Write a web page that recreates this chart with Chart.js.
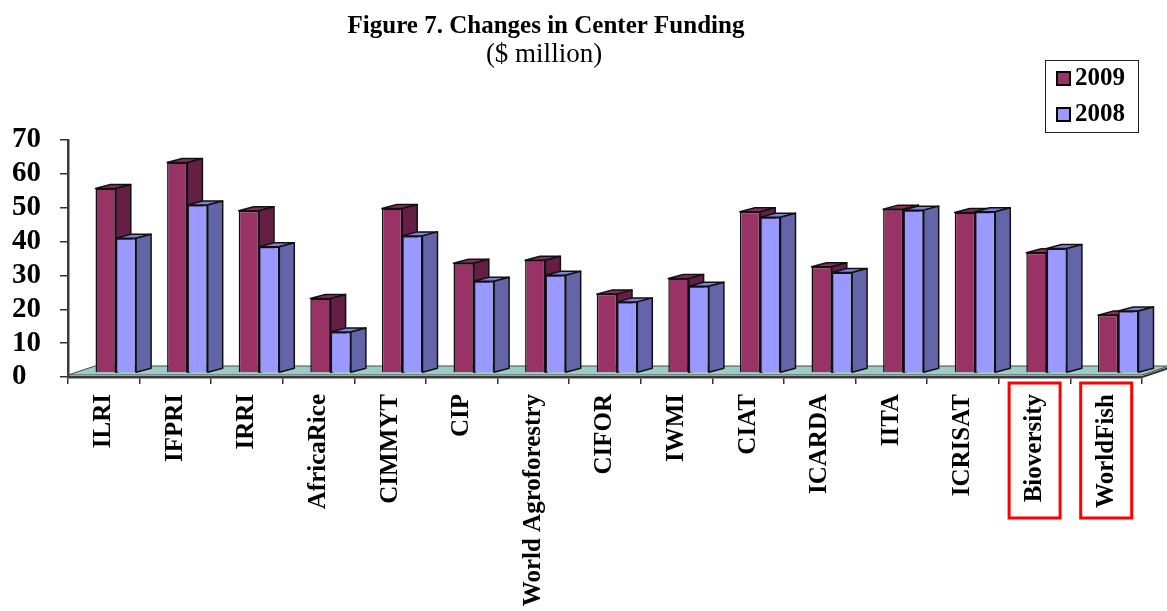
<!DOCTYPE html>
<html>
<head>
<meta charset="utf-8">
<script src="https://cdn.jsdelivr.net/npm/chart.js@4"></script>
<style>
  body { margin: 0; background: #fff; }
  #wrap { width: 1167px; height: 611px; position: relative; }
</style>
</head>
<body>
<div id="wrap"><canvas id="funding"></canvas></div>
<script>
const centros = ['ILRI', 'IFPRI', 'IRRI', 'AfricaRice', 'CIMMYT', 'CIP', 'World Agroforestry', 'CIFOR', 'IWMI', 'CIAT', 'ICARDA', 'IITA', 'ICRISAT', 'Bioversity', 'WorldFish'];
const funding2009 = [54.5, 62.2, 47.9, 22.0, 48.6, 32.4, 33.3, 23.3, 27.9, 47.6, 31.4, 48.4, 47.4, 35.5, 17.1];
const funding2008 = [39.8, 49.6, 37.3, 12.1, 40.5, 27.1, 28.9, 21.0, 25.6, 46.0, 29.7, 48.1, 47.6, 36.8, 18.3];
const destacados = ['Bioversity', 'WorldFish'];
const yTicks = [0, 10, 20, 30, 40, 50, 60, 70];

const serif = "'Liberation Serif', 'Times New Roman', serif";

const cores = {
  '2009': { front: '#993366', top: '#8a2c5c', side: '#661f44' },
  '2008': { front: '#9999ff', top: '#7f7fdc', side: '#6464a8' }
};

// fake 3D: floor + top/side faces, fronts are drawn by Chart.js shifted back
const shift = { x: 12, y: -4 };
const depth = { x: 15, y: -4 };

function poly(ctx, pts, fill) {
  ctx.beginPath();
  ctx.moveTo(pts[0][0], pts[0][1]);
  for (let i = 1; i < pts.length; i++) ctx.lineTo(pts[i][0], pts[i][1]);
  ctx.closePath();
  ctx.fillStyle = fill;
  ctx.fill();
  ctx.stroke();
}

const bars3d = {
  id: 'bars3d',
  beforeDatasetsDraw(chart) {
    const ctx = chart.ctx;
    const a = chart.chartArea;
    ctx.save();
    ctx.strokeStyle = '#4a4a4a';
    ctx.lineWidth = 1;
    const fy = a.bottom - 2;
    poly(ctx, [[a.left, fy], [a.right, fy], [a.right + 27, fy - 9], [a.left + 27, fy - 9]], '#9ccbc6');
    ctx.lineWidth = 2;
    ctx.strokeStyle = '#333';
    ctx.beginPath();
    ctx.moveTo(a.right, a.bottom);
    ctx.lineTo(a.right + 27, a.bottom - 9);
    ctx.stroke();
    ctx.restore();

    ctx.save();
    ctx.translate(shift.x, shift.y);
    ctx.strokeStyle = '#111';
    ctx.lineWidth = 1.5;
    ctx.lineJoin = 'round';
    const metas = chart.data.datasets.map((d, i) => chart.getDatasetMeta(i));
    for (let i = 0; i < chart.data.labels.length; i++) {
      metas.forEach((meta, di) => {
        const el = meta.data[i];
        const c = cores[chart.data.datasets[di].label];
        const l = el.x - el.width / 2, r = el.x + el.width / 2;
        const t = el.y, b = el.base;
        poly(ctx, [[l, t], [r, t], [r + depth.x, t + depth.y], [l + depth.x, t + depth.y]], c.top);
        poly(ctx, [[r, t], [r + depth.x, t + depth.y], [r + depth.x, b + depth.y], [r, b]], c.side);
      });
    }
  },
  afterDatasetsDraw(chart) {
    chart.ctx.restore();
  },
  afterDraw(chart) {
    const ctx = chart.ctx;
    ctx.save();
    ctx.fillStyle = '#000';
    ctx.textAlign = 'center';
    ctx.textBaseline = 'middle';
    ctx.font = 'bold 25px ' + serif;
    ctx.fillText('Figure 7. Changes in Center Funding', 546, 27);
    ctx.font = '27px ' + serif;
    ctx.fillText('($ million)', 544, 55);

    // legend
    ctx.strokeStyle = '#222';
    ctx.lineWidth = 1;
    ctx.strokeRect(1045.5, 60.5, 93, 72);
    ctx.textAlign = 'left';
    ctx.font = 'bold 25px ' + serif;
    chart.data.datasets.forEach((d, i) => {
      const cy = 78 + i * 36;
      ctx.fillStyle = d.backgroundColor;
      ctx.fillRect(1057, cy - 6, 13, 13);
      ctx.lineWidth = 2;
      ctx.strokeStyle = '#000';
      ctx.strokeRect(1057, cy - 6, 13, 13);
      ctx.fillStyle = '#000';
      ctx.fillText(d.label, 1075, cy + 1);
    });

    // red boxes around highlighted centres
    const xs = chart.scales.x;
    ctx.strokeStyle = '#ff0000';
    ctx.lineWidth = 3;
    destacados.forEach(nome => {
      const i = chart.data.labels.indexOf(nome);
      const x = xs.getPixelForTick(i);
      ctx.strokeRect(x - 25.5, 383, 51, 135);
    });
    ctx.restore();
  }
};

const grafico = document.getElementById('funding');
new Chart(grafico, {
  type: 'bar',
  data: {
    labels: centros,
    datasets: [{
      label: '2009',
      data: funding2009,
      backgroundColor: cores['2009'].front,
      borderColor: '#111',
      borderWidth: 1.5,
      clip: false
    }, {
      label: '2008',
      data: funding2008,
      backgroundColor: cores['2008'].front,
      borderColor: '#111',
      borderWidth: 1.5,
      clip: false
    }]
  },
  options: {
    responsive: true,
    maintainAspectRatio: false,
    animation: false,
    events: [],
    categoryPercentage: 0.567,
    barPercentage: 1,
    layout: {
      padding: { left: 12, right: 25, top: 140, bottom: 0 }
    },
    plugins: {
      legend: { display: false },
      title: { display: false },
      tooltip: { enabled: false }
    },
    scales: {
      x: {
        afterFit(scale) { scale.height = 234; },
        grid: {
          offset: true,
          drawOnChartArea: false,
          tickLength: 7,
          color: '#333',
          lineWidth: 1.5
        },
        border: { display: true, color: '#3a3a3a', width: 2.5 },
        ticks: {
          autoSkip: false,
          maxRotation: 90,
          minRotation: 90,
          padding: 10,
          color: '#000',
          font: { family: serif, size: 25, weight: 'bold' }
        }
      },
      y: {
        min: 0,
        max: 70,
        afterFit(scale) { scale.width = 56; },
        afterBuildTicks(scale) { scale.ticks = yTicks.map(v => ({ value: v })); },
        grid: {
          drawOnChartArea: false,
          tickLength: 8,
          color: '#333',
          lineWidth: 1.5
        },
        border: { display: true, color: '#3a3a3a', width: 2.5 },
        ticks: {
          autoSkip: false,
          crossAlign: 'far',
          color: '#000',
          font: { family: serif, size: 29, weight: 'bold' }
        }
      }
    }
  },
  plugins: [bars3d]
});
</script>
</body>
</html>
